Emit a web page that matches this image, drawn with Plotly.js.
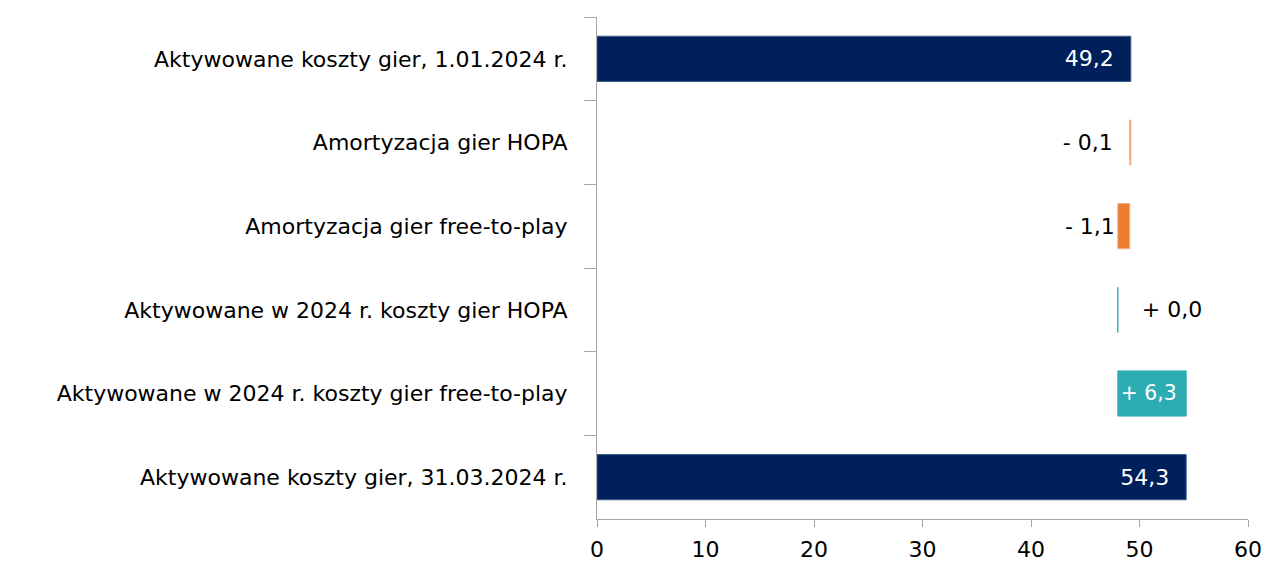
<!DOCTYPE html>
<html><head><meta charset="utf-8">
<script src="https://cdn.plot.ly/plotly-3.0.1.min.js"></script>
<style>html,body{margin:0;padding:0;background:#fff}#chart{width:1264px;height:563px}</style>
</head><body><div id="chart"></div>
<script>
const categories = [
  "Aktywowane koszty gier, 1.01.2024 r.",
  "Amortyzacja gier HOPA",
  "Amortyzacja gier free-to-play",
  "Aktywowane w 2024 r. koszty gier HOPA",
  "Aktywowane w 2024 r. koszty gier free-to-play",
  "Aktywowane koszty gier, 31.03.2024 r."
];
const values = [49.2, -0.1, -1.1, 0.0, 6.3, 54.3];
const kinds = ["total", "change", "change", "change", "change", "total"];
const xTicks = [0, 10, 20, 30, 40, 50, 60];

const FONT = "DejaVu Sans, sans-serif";
const FS = 22;
const navy = "#00205B", orange = "#ED7D31", teal = "#2EACB3";
let run = 0;
const bases = [], colors = [], lineColors = [], texts = [], textPos = [], textColors = [];
values.forEach((v, i) => {
  const fmt = Math.abs(v).toFixed(1).replace(".", ",");
  if (kinds[i] === "total") {
    bases.push(0); run = v;
    colors.push(navy); lineColors.push("#3B5C8F");
    texts.push(fmt + "  "); textPos.push("inside"); textColors.push("#ffffff");
  } else {
    bases.push(run);
    const neg = v < 0;
    colors.push(neg ? orange : teal); lineColors.push(neg ? "#F4B183" : teal);
    const inside = Math.abs(v) > 3;
    let t = (neg ? "- " : "+ ") + fmt;
    if (!neg && !inside) t = "   " + t;
    if (neg && Math.abs(v) < 0.5) t = t + "  ";
    if (inside) t = t + " ";
    texts.push(t);
    textPos.push(inside ? "inside" : "outside");
    textColors.push(inside ? "#ffffff" : "#000000");
    run += v;
  }
});

const trace = {
  type: "bar", orientation: "h",
  y: categories, x: values, base: bases,
  marker: {color: colors, line: {color: lineColors, width: 1}},
  text: texts, textposition: textPos, insidetextanchor: "end",
  textfont: {family: FONT, size: FS, color: textColors},
  outsidetextfont: {family: FONT, size: FS, color: "#000000"},
  insidetextfont: {family: FONT, size: FS, color: "#ffffff"},
  cliponaxis: false, hoverinfo: "skip"
};

const layout = {
  width: 1264, height: 563,
  margin: {l: 597, r: 16, t: 17, b: 44},
  paper_bgcolor: "#fff", plot_bgcolor: "#fff",
  showlegend: false, bargap: 0.46,
  font: {family: FONT, size: FS, color: "#000"},
  xaxis: {
    range: [0, 60], tickvals: xTicks, ticktext: xTicks.map(String),
    showgrid: false, zeroline: false, showline: true, linecolor: "#A6A6A6", linewidth: 1,
    ticks: "outside", ticklen: 7, tickcolor: "#A6A6A6", ticklabelstandoff: 4,
    tickfont: {family: FONT, size: FS, color: "#000"}
  },
  yaxis: {
    type: "category", autorange: "reversed", tickson: "boundaries",
    showgrid: false, zeroline: false, showline: true, linecolor: "#A6A6A6", linewidth: 1,
    ticks: "outside", ticklen: 12, tickcolor: "#A6A6A6", ticklabelstandoff: 24,
    tickfont: {family: FONT, size: FS, color: "#000"}
  }
};

Plotly.newPlot("chart", [trace], layout, {displayModeBar: false, staticPlot: true});
</script></body></html>
